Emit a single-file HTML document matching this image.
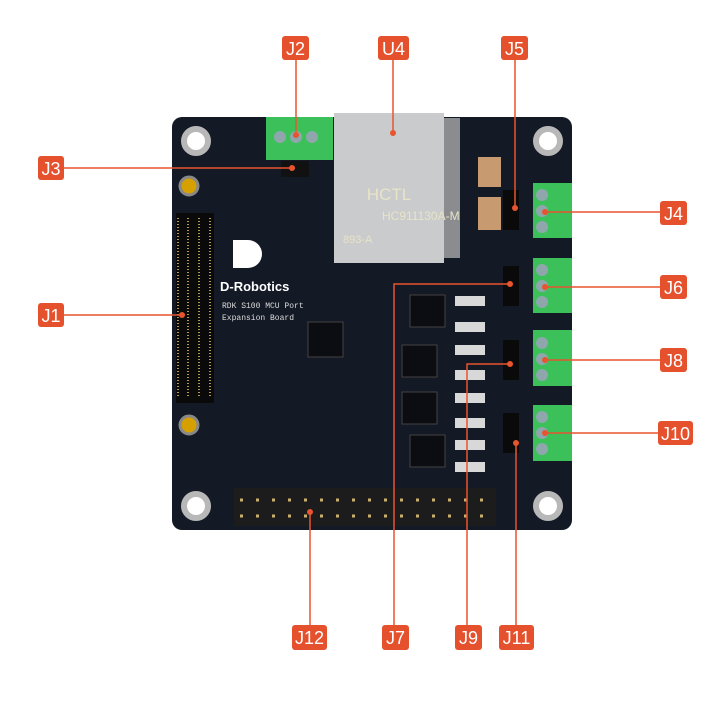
<!DOCTYPE html>
<html><head><meta charset="utf-8"><style>
html,body{margin:0;padding:0;background:#fff;}
svg{display:block;}
.lb{font-family:"Liberation Sans",sans-serif;font-size:18px;fill:#fff;text-anchor:middle;}
</style></head><body>
<svg width="709" height="709" viewBox="0 0 709 709" xmlns="http://www.w3.org/2000/svg">
<rect x="172" y="117" width="400" height="413" rx="10" fill="#131925"/>
<g fill="#fff" stroke="#b8b8b8" stroke-width="6">
<circle cx="196" cy="141" r="12"/><circle cx="548" cy="141" r="12"/>
<circle cx="196" cy="506" r="12"/><circle cx="548" cy="506" r="12"/>
</g>
<circle cx="189" cy="186" r="9" fill="#d6a000" stroke="#888" stroke-width="3"/>
<circle cx="189" cy="425" r="9" fill="#d6a000" stroke="#888" stroke-width="3"/>
<rect x="176" y="213" width="38" height="190" fill="#0a0a0a"/>
<g stroke="#b59a55" stroke-width="2" stroke-dasharray="1 2">
<line x1="178" y1="218" x2="178" y2="398"/><line x1="188" y1="218" x2="188" y2="398"/>
<line x1="199" y1="218" x2="199" y2="398"/><line x1="210" y1="218" x2="210" y2="398"/>
</g>
<rect x="334" y="113" width="110" height="150" fill="#c9cbcc"/>
<rect x="444" y="118" width="16" height="140" fill="#8a8c90"/>
<text x="389" y="200" font-family="Liberation Sans" font-size="17" fill="#e8e4c8" text-anchor="middle">HCTL</text>
<text x="382" y="220" font-family="Liberation Sans" font-size="12" fill="#e8e4c8">HC911130A-M</text>
<text x="343" y="243" font-family="Liberation Sans" font-size="11" fill="#e8e4c8">893-A</text>
<rect x="478" y="157" width="23" height="30" fill="#c89a70"/>
<rect x="478" y="197" width="23" height="33" fill="#c89a70"/>
<rect x="266" y="117" width="67" height="43" fill="#3cc15a"/>
<g fill="#8fa6ad"><circle cx="280" cy="137" r="6"/><circle cx="296" cy="137" r="6"/><circle cx="312" cy="137" r="6"/></g>
<rect x="281" y="161" width="28" height="16" fill="#111"/>
<g fill="#3cc15a">
<rect x="533" y="183" width="39" height="55"/><rect x="533" y="258" width="39" height="55"/>
<rect x="533" y="330" width="39" height="56"/><rect x="533" y="405" width="39" height="56"/>
</g>
<g fill="#8fa6ad">
<circle cx="542" cy="195" r="6"/><circle cx="542" cy="211" r="6"/><circle cx="542" cy="227" r="6"/>
<circle cx="542" cy="270" r="6"/><circle cx="542" cy="286" r="6"/><circle cx="542" cy="302" r="6"/>
<circle cx="542" cy="343" r="6"/><circle cx="542" cy="359" r="6"/><circle cx="542" cy="375" r="6"/>
<circle cx="542" cy="417" r="6"/><circle cx="542" cy="433" r="6"/><circle cx="542" cy="449" r="6"/>
</g>
<g fill="#0a0a0a"><rect x="503" y="190" width="16" height="40"/><rect x="503" y="266" width="16" height="40"/><rect x="503" y="340" width="16" height="40"/><rect x="503" y="413" width="16" height="40"/></g>
<g fill="#0b0d12" stroke="#444" stroke-width="1">
<rect x="410" y="295" width="35" height="32"/><rect x="402" y="345" width="35" height="32"/>
<rect x="402" y="392" width="35" height="32"/><rect x="410" y="435" width="35" height="32"/>
<rect x="308" y="322" width="35" height="35"/>
</g>
<g fill="#d8d8d8"><rect x="455" y="296" width="30" height="10"/><rect x="455" y="322" width="30" height="10"/><rect x="455" y="345" width="30" height="10"/><rect x="455" y="370" width="30" height="10"/><rect x="455" y="393" width="30" height="10"/><rect x="455" y="418" width="30" height="10"/><rect x="455" y="440" width="30" height="10"/><rect x="455" y="462" width="30" height="10"/></g>
<rect x="234" y="488" width="262" height="38" fill="#1c1c1c"/>
<g stroke="#c8b070" stroke-width="3" stroke-dasharray="3 13"><line x1="240" y1="500" x2="494" y2="500"/><line x1="240" y1="516" x2="494" y2="516"/></g>
<path d="M233 240 h15 a14 14 0 0 1 0 28 h-15 z" fill="#fff"/>
<text x="220" y="291" font-family="Liberation Sans" font-weight="bold" font-size="13" fill="#fff">D-Robotics</text>
<text x="222" y="308" font-family="Liberation Mono" font-size="8" fill="#ddd">RDK S100 MCU Port</text>
<text x="222" y="320" font-family="Liberation Mono" font-size="8" fill="#ddd">Expansion Board</text>
<g stroke="#e8542f" stroke-width="1.5" fill="none">
<line x1="296" y1="60" x2="296" y2="135"/>
<line x1="393" y1="60" x2="393" y2="133"/>
<line x1="515" y1="60" x2="515" y2="208"/>
<line x1="63" y1="168" x2="292" y2="168"/>
<line x1="63" y1="315" x2="182" y2="315"/>
<line x1="545" y1="212" x2="660" y2="212"/>
<line x1="545" y1="287" x2="660" y2="287"/>
<line x1="545" y1="360" x2="660" y2="360"/>
<line x1="545" y1="433" x2="660" y2="433"/>
<line x1="310" y1="512" x2="310" y2="625"/>
<polyline points="394,625 394,284 510,284"/>
<polyline points="467,625 467,364 510,364"/>
<line x1="516" y1="443" x2="516" y2="625"/>
</g>
<g fill="#e8542f">
<circle cx="296" cy="135" r="3"/><circle cx="393" cy="133" r="3"/><circle cx="515" cy="208" r="3"/>
<circle cx="292" cy="168" r="3"/><circle cx="182" cy="315" r="3"/>
<circle cx="545" cy="212" r="3"/><circle cx="545" cy="287" r="3"/><circle cx="545" cy="360" r="3"/><circle cx="545" cy="433" r="3"/>
<circle cx="310" cy="512" r="3"/><circle cx="510" cy="284" r="3"/><circle cx="510" cy="364" r="3"/><circle cx="516" cy="443" r="3"/>
</g>
<g fill="#e5512d">
<rect x="282" y="36" width="27" height="24" rx="3"/>
<rect x="378" y="36" width="31" height="24" rx="3"/>
<rect x="501" y="36" width="27" height="24" rx="3"/>
<rect x="38" y="156" width="26" height="24" rx="3"/>
<rect x="38" y="303" width="26" height="24" rx="3"/>
<rect x="660" y="201" width="27" height="24" rx="3"/>
<rect x="660" y="275" width="27" height="24" rx="3"/>
<rect x="660" y="348" width="27" height="24" rx="3"/>
<rect x="658" y="421" width="35" height="24" rx="3"/>
<rect x="292" y="625" width="35" height="25" rx="3"/>
<rect x="382" y="625" width="27" height="25" rx="3"/>
<rect x="455" y="625" width="27" height="25" rx="3"/>
<rect x="499" y="625" width="35" height="25" rx="3"/>
</g>
<g class="lb">
<text x="295.5" y="55">J2</text><text x="393.5" y="55">U4</text><text x="514.5" y="55">J5</text>
<text x="51" y="175">J3</text><text x="51" y="322">J1</text>
<text x="673.5" y="220">J4</text><text x="673.5" y="294">J6</text><text x="673.5" y="367">J8</text><text x="675.5" y="440">J10</text>
<text x="309.5" y="644">J12</text><text x="395.5" y="644">J7</text><text x="468.5" y="644">J9</text><text x="516.5" y="644">J11</text>
</g>
</svg>
</body></html>
